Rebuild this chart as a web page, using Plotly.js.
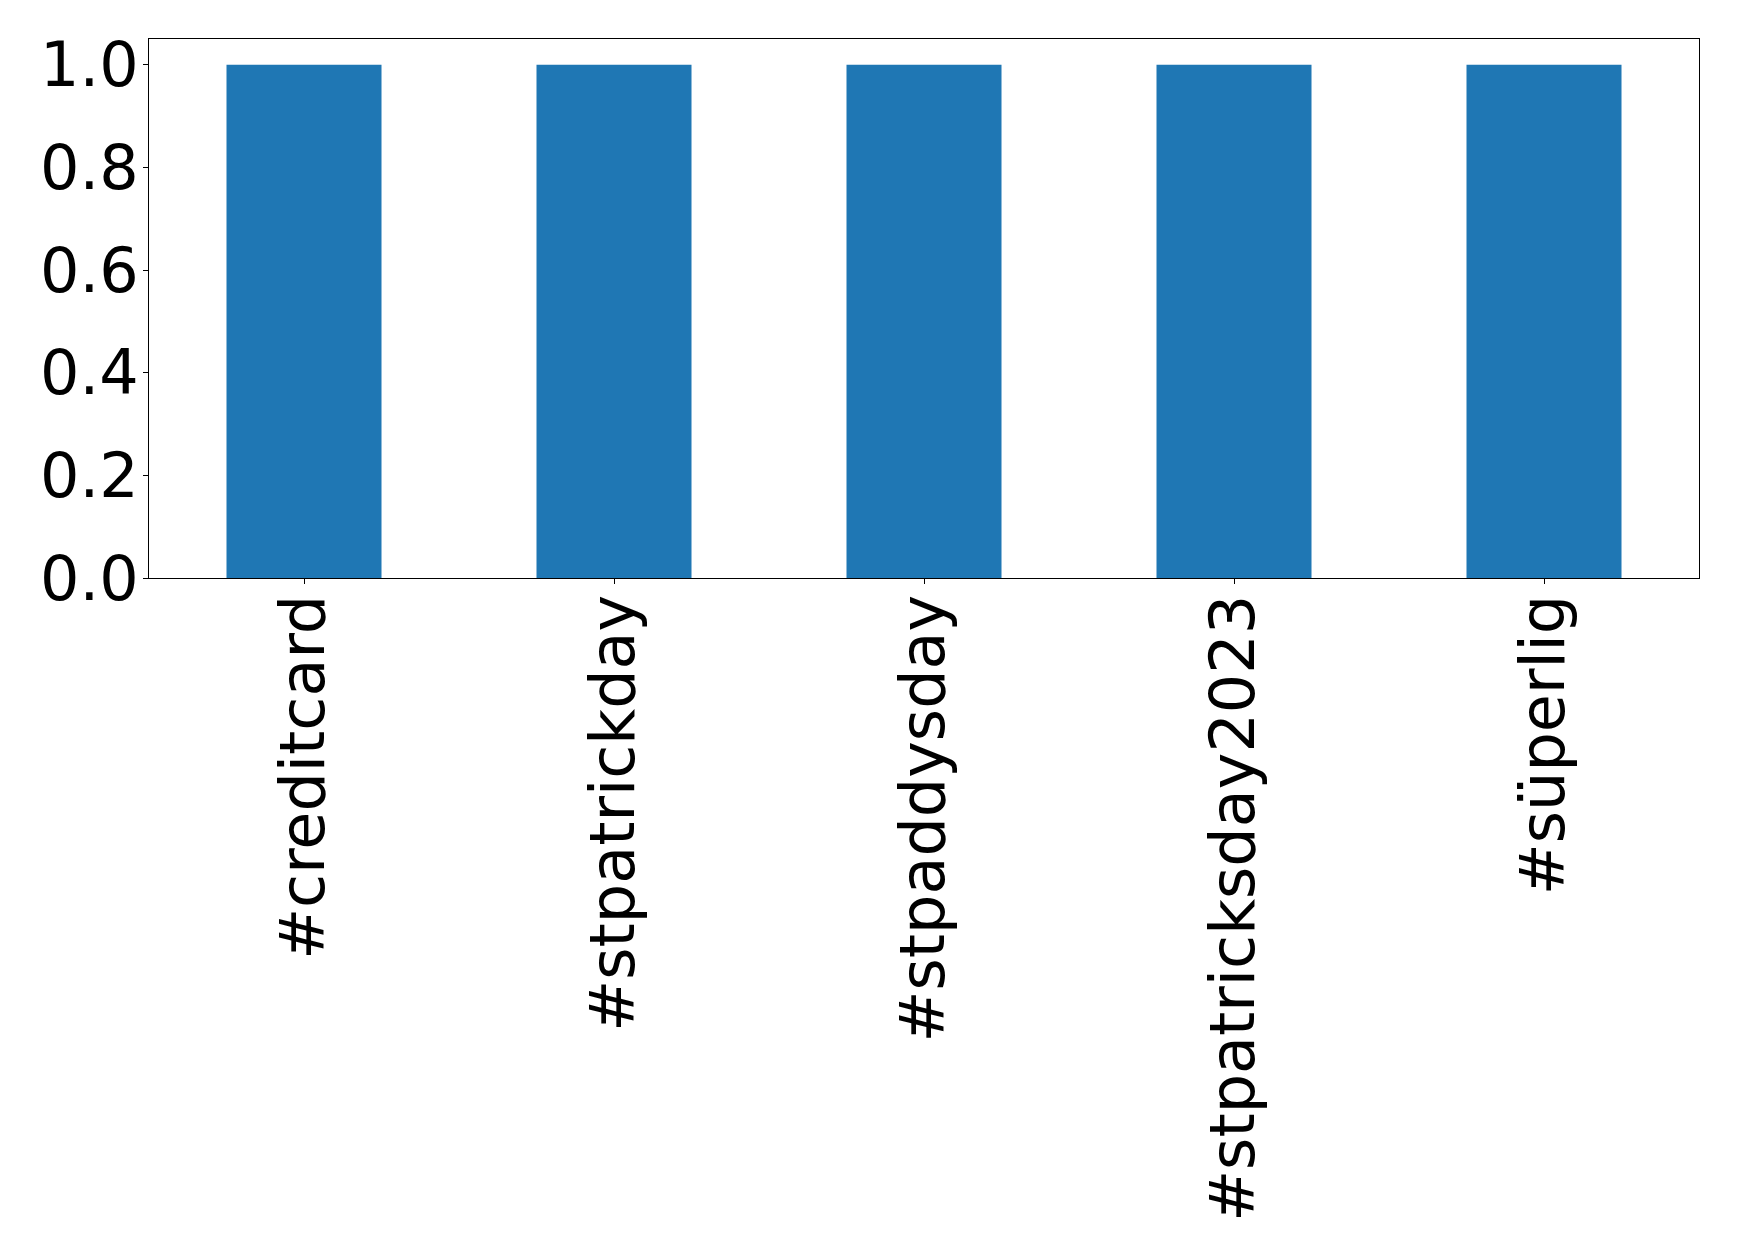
<!DOCTYPE html>
<html><head><meta charset="utf-8">
<script src="https://cdn.plot.ly/plotly-3.0.1.min.js"></script>
<style>html,body{margin:0;padding:0;background:#fff;}#c{width:1739px;height:1260px;}</style>
</head><body><div id="c"></div>
<script>
const categories = ["#creditcard", "#stpatrickday", "#stpaddysday", "#stpatricksday2023", "#süperlig"];
const values = [1, 1, 1, 1, 1];
const yTicks = [0, 0.2, 0.4, 0.6, 0.8, 1.0];
const yTickLabels = ["0.0", "0.2", "0.4", "0.6", "0.8", "1.0"];

Plotly.newPlot('c', [{
  type: 'bar', x: categories, y: values, width: 0.5,
  marker: {color: '#1f77b4', line: {width: 0}}
}], {
  width: 1739, height: 1260,
  margin: {l: 149, r: 40, t: 39, b: 682, pad: 0},
  paper_bgcolor: '#fff', plot_bgcolor: '#fff',
  font: {family: 'DejaVu Sans', size: 62, color: '#000'},
  showlegend: false,
  xaxis: {
    range: [-0.5, 4.5], tickangle: -90, ticks: 'outside', ticklen: 5, tickwidth: 1, tickcolor: '#000',
    showline: true, linecolor: '#000', linewidth: 1, mirror: true, showgrid: false, zeroline: false,
    ticklabelstandoff: -14
  },
  yaxis: {
    range: [0, 1.05], tickvals: yTicks, ticktext: yTickLabels, ticks: 'outside', ticklen: 5, tickwidth: 1, tickcolor: '#000',
    showline: true, linecolor: '#000', linewidth: 1, mirror: true, showgrid: false, zeroline: false,
    ticklabelstandoff: -8
  }
}, {displayModeBar: false, staticPlot: true});
</script></body></html>
